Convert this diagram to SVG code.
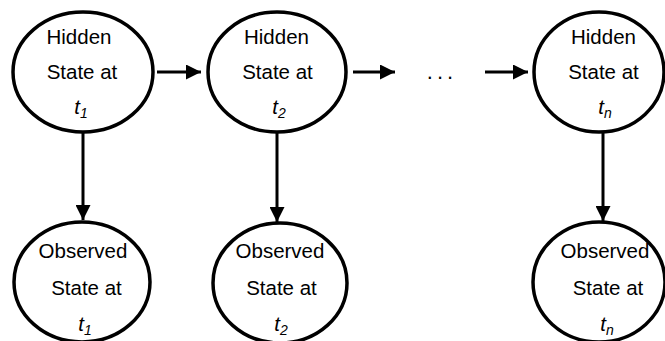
<svg xmlns="http://www.w3.org/2000/svg" width="665" height="341" viewBox="0 0 665 341">
<defs>
<marker id="ah" markerWidth="5" markerHeight="5" refX="5" refY="2.5" orient="auto" markerUnits="strokeWidth">
<path d="M0,0 L5,2.5 L0,5 Z" fill="#000"/>
</marker>
<style>
.node{fill:#fff;stroke:#000;stroke-width:3.5}
.lbl{font-family:"Liberation Sans",Arial,sans-serif;font-size:20.5px;fill:#000;text-anchor:middle}
.t{font-style:italic}
.sub{font-size:14px;font-style:italic}
.edge{stroke:#000;stroke-width:3;fill:none;marker-end:url(#ah)}
</style>
</defs>
<rect width="665" height="341" fill="#fff"/>
<g id="connectors">
<path class="edge" d="M157,72 L201,72"/>
<path class="edge" d="M353,72 L395,72"/>
<path class="edge" d="M485,72 L528,72"/>
<path class="edge" d="M83,133 L83,220"/>
<path class="edge" d="M277,133 L277,222"/>
<path class="edge" d="M603,133 L603,221"/>
</g>
<g id="ellipsis">
<text class="lbl" x="442" y="79" style="font-size:22px;letter-spacing:4px">...</text>
</g>
<g id="hidden1">
<ellipse class="node" cx="83" cy="72" rx="70" ry="60"/>
<text class="lbl" x="79" y="44">Hidden</text>
<text class="lbl" x="82" y="79">State at</text>
<text class="lbl" x="81" y="114"><tspan class="t">t</tspan><tspan class="sub" dy="4">1</tspan></text>
</g>
<g id="hidden2">
<ellipse class="node" cx="277" cy="72" rx="69" ry="60"/>
<text class="lbl" x="276.5" y="44">Hidden</text>
<text class="lbl" x="277.5" y="79">State at</text>
<text class="lbl" x="279" y="114"><tspan class="t">t</tspan><tspan class="sub" dy="4">2</tspan></text>
</g>
<g id="hiddenN">
<ellipse class="node" cx="599" cy="72" rx="65" ry="60"/>
<text class="lbl" x="603.5" y="44">Hidden</text>
<text class="lbl" x="603.5" y="79">State at</text>
<text class="lbl" x="605" y="114"><tspan class="t">t</tspan><tspan class="sub" dy="4">n</tspan></text>
</g>
<g id="observed1">
<ellipse class="node" cx="82" cy="282" rx="68" ry="60"/>
<text class="lbl" x="83" y="258">Observed</text>
<text class="lbl" x="86.5" y="295">State at</text>
<text class="lbl" x="85" y="331"><tspan class="t">t</tspan><tspan class="sub" dy="4">1</tspan></text>
</g>
<g id="observed2">
<ellipse class="node" cx="280" cy="283" rx="67" ry="60"/>
<text class="lbl" x="280" y="258">Observed</text>
<text class="lbl" x="281.5" y="295">State at</text>
<text class="lbl" x="281" y="331"><tspan class="t">t</tspan><tspan class="sub" dy="4">2</tspan></text>
</g>
<g id="observedN">
<ellipse class="node" cx="599" cy="282" rx="66" ry="60"/>
<text class="lbl" x="605" y="258">Observed</text>
<text class="lbl" x="608" y="295">State at</text>
<text class="lbl" x="607" y="331"><tspan class="t">t</tspan><tspan class="sub" dy="4">n</tspan></text>
</g>
</svg>
